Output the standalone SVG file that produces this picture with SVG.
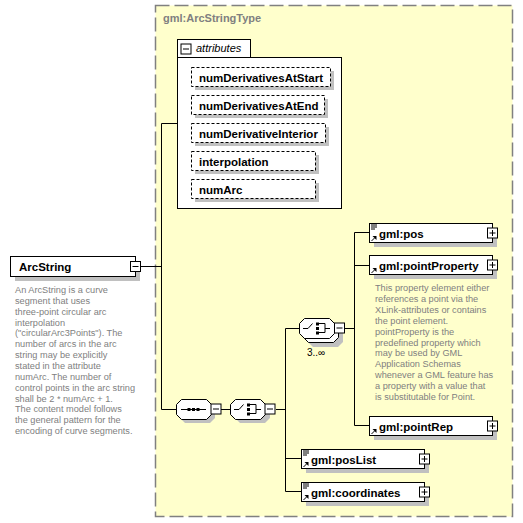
<svg xmlns="http://www.w3.org/2000/svg" xmlns:xlink="http://www.w3.org/1999/xlink" width="523" height="523" viewBox="0 0 523 523">
<style>
.box{fill:#fff;stroke:#000;stroke-width:1}
.sh{fill:#c0c0c0}
.attr{fill:#fff;stroke:#000;stroke-width:1;stroke-dasharray:3,2}
.lbl{font-family:"Liberation Sans",Arial,sans-serif;font-weight:bold;font-size:11.5px;fill:#000}
.desc{font-family:"Liberation Sans",Arial,sans-serif;font-size:9.2px;fill:#808080}
.ln{stroke:#000;stroke-width:1;fill:none}
.blk{fill:#000}
</style>
<defs>
<path id="oct" d="M5,0 H30 L35,5 V15 L30,20 H5 L0,15 V5 Z"/>
<g id="minus"><rect x="0.5" y="0.5" width="10" height="10" class="box"/><path d="M2.5,5.5 H8.5" class="ln"/></g>
<g id="plus"><rect x="0.5" y="0.5" width="10" height="10" class="box"/><path d="M2.5,5.5 H8.5 M5.5,2.5 V8.5" class="ln"/></g>
<g id="arr"><path d="M0.5,5.5 L3.5,2.5" class="ln"/><path d="M1.5,0.5 H5.5 V4.5 Z" class="blk"/></g>
<g id="sim"><path d="M0,0.5 H6 M0,2.5 H6 M0,4.5 H4" class="ln"/></g>
<g id="seqicon"><path d="M5,10.5 H30" class="ln"/><rect x="11.5" y="9" width="3" height="3" class="blk"/><rect x="16" y="9" width="3" height="3" class="blk"/><rect x="20.5" y="9" width="3" height="3" class="blk"/></g>
<g id="choiceicon"><path d="M3.5,10.5 H8.5 L13,5.5 M19.5,5.5 H25.5 V14.5 H19.5 M25.5,10.5 H30.5" class="ln"/><rect x="16.5" y="4.5" width="3" height="3" class="blk"/><rect x="16.5" y="9" width="3" height="3" class="blk"/><rect x="16.5" y="13.5" width="3" height="3" class="blk"/></g>
</defs>

<rect width="523" height="523" fill="#fff"/>

<g id="ArcStringType">
<rect x="155.5" y="5.5" width="357" height="511" fill="#ffffcc" stroke="#808080" stroke-width="1.5" stroke-dasharray="14,5"/>
<text x="163" y="22" font-family="Liberation Sans,Arial,sans-serif" font-weight="bold" font-size="11px" fill="#808080">gml:ArcStringType</text>
</g>

<g id="connectors">
<path class="ln" d="M141,266.5 H161.5 M161.5,123.5 H177 M161.5,123.5 V409.5 H176 M221,409.5 H231 M276,409.5 H285.5 M285.5,328.5 V491.5 M285.5,328.5 H300 M285.5,458.5 H301 M285.5,491.5 H301 M345,328.5 H354.5 M354.5,232.5 V425.5 M354.5,232.5 H369 M354.5,265.5 H369 M354.5,425.5 H369"/>
</g>

<g id="ArcString">
<rect x="15" y="261" width="125" height="20" class="sh"/>
<rect x="10.5" y="256.5" width="125" height="20" class="box"/>
<text x="19" y="271" class="lbl" style="font-size:11.5px">ArcString</text>
<use xlink:href="#minus" x="130" y="261"/>
<text class="desc">
<tspan x="15" y="293">An ArcString is a curve</tspan>
<tspan x="15" y="303.85">segment that uses</tspan>
<tspan x="15" y="314.7">three-point circular arc</tspan>
<tspan x="15" y="325.55">interpolation</tspan>
<tspan x="15" y="336.4">("circularArc3Points"). The</tspan>
<tspan x="15" y="347.25">number of arcs in the arc</tspan>
<tspan x="15" y="358.1">string may be explicitly</tspan>
<tspan x="15" y="368.95">stated in the attribute</tspan>
<tspan x="15" y="379.8">numArc. The number of</tspan>
<tspan x="15" y="390.65">control points in the arc string</tspan>
<tspan x="15" y="401.5">shall be 2 * numArc + 1.</tspan>
<tspan x="15" y="412.35">The content model follows</tspan>
<tspan x="15" y="423.2">the general pattern for the</tspan>
<tspan x="15" y="434.05">encoding of curve segments.</tspan>
</text>
</g>

<g id="attributes">
<rect x="177.5" y="39.5" width="73" height="18" class="box"/>
<rect x="177.5" y="57.5" width="164" height="151" class="box"/>
<use xlink:href="#minus" x="180.5" y="43.5"/>
<text x="196" y="52" font-family="Liberation Sans,Arial,sans-serif" font-style="italic" font-size="11px" fill="#000">attributes</text>
</g>

<g id="numDerivativesAtStart">
<rect x="195" y="71" width="139" height="19" class="sh"/>
<rect x="191.5" y="67.5" width="139" height="19" class="attr"/>
<text x="199" y="81.5" class="lbl">numDerivativesAtStart</text>
</g>
<g id="numDerivativesAtEnd">
<rect x="195" y="99" width="133" height="19" class="sh"/>
<rect x="191.5" y="95.5" width="133" height="19" class="attr"/>
<text x="199" y="109.5" class="lbl">numDerivativesAtEnd</text>
</g>
<g id="numDerivativeInterior">
<rect x="195" y="127" width="134" height="19" class="sh"/>
<rect x="191.5" y="123.5" width="134" height="19" class="attr"/>
<text x="199" y="137.5" class="lbl">numDerivativeInterior</text>
</g>
<g id="interpolation">
<rect x="195" y="155" width="124" height="19" class="sh"/>
<rect x="191.5" y="151.5" width="124" height="19" class="attr"/>
<text x="199" y="165.5" class="lbl">interpolation</text>
</g>
<g id="numArc">
<rect x="195" y="183" width="124" height="19" class="sh"/>
<rect x="191.5" y="179.5" width="124" height="19" class="attr"/>
<text x="199" y="193.5" class="lbl">numArc</text>
</g>

<g id="sequence">
<use xlink:href="#oct" x="180" y="403" class="sh"/>
<use xlink:href="#oct" x="176.5" y="399.5" class="box"/>
<use xlink:href="#seqicon" x="176" y="399"/>
<use xlink:href="#minus" x="210.5" y="403.5"/>
</g>

<g id="choice">
<use xlink:href="#oct" x="235" y="403" class="sh"/>
<use xlink:href="#oct" x="230.5" y="399.5" class="box"/>
<use xlink:href="#choiceicon" x="230.5" y="399"/>
<use xlink:href="#minus" x="264.5" y="403.5"/>
</g>

<g id="choice2">
<use xlink:href="#oct" x="308" y="327" class="sh"/>
<use xlink:href="#oct" x="303.5" y="322.5" class="box"/>
<use xlink:href="#oct" x="299.5" y="318.5" class="box"/>
<use xlink:href="#choiceicon" x="299.5" y="318"/>
<use xlink:href="#minus" x="334" y="322.5"/>
<text x="307" y="356" font-family="Liberation Sans,Arial,sans-serif" font-size="10px" fill="#000">3..∞</text>
</g>

<g id="pos">
<rect x="374" y="228" width="123" height="19" class="sh"/>
<rect x="369.5" y="223.5" width="123" height="19" class="box"/>
<use xlink:href="#sim" x="371" y="224.5"/>
<use xlink:href="#arr" x="371" y="235.5"/>
<text x="379" y="237.5" class="lbl">gml:pos</text>
<use xlink:href="#plus" x="487" y="227.5"/>
</g>

<g id="pointProperty">
<rect x="374" y="260" width="123" height="19" class="sh"/>
<rect x="369.5" y="255.5" width="123" height="19" class="box"/>
<use xlink:href="#arr" x="371" y="267.5"/>
<text x="379" y="269.5" class="lbl">gml:pointProperty</text>
<use xlink:href="#plus" x="487" y="259.5"/>
<text class="desc">
<tspan x="375" y="291">This property element either</tspan>
<tspan x="375" y="301.9">references a point via the</tspan>
<tspan x="375" y="312.8">XLink-attributes or contains</tspan>
<tspan x="375" y="323.7">the point element.</tspan>
<tspan x="375" y="334.6">pointProperty is the</tspan>
<tspan x="375" y="345.5">predefined property which</tspan>
<tspan x="375" y="356.4">may be used by GML</tspan>
<tspan x="375" y="367.3">Application Schemas</tspan>
<tspan x="375" y="378.2">whenever a GML feature has</tspan>
<tspan x="375" y="389.1">a property with a value that</tspan>
<tspan x="375" y="400">is substitutable for Point.</tspan>
</text>
</g>

<g id="pointRep">
<rect x="374" y="421" width="123" height="19" class="sh"/>
<rect x="369.5" y="416.5" width="123" height="19" class="box"/>
<use xlink:href="#arr" x="371" y="428.5"/>
<text x="379" y="430.5" class="lbl">gml:pointRep</text>
<use xlink:href="#plus" x="487" y="420.5"/>
</g>

<g id="posList">
<rect x="306" y="454" width="123" height="19" class="sh"/>
<rect x="301.5" y="449.5" width="123" height="19" class="box"/>
<use xlink:href="#sim" x="303" y="450.5"/>
<use xlink:href="#arr" x="303" y="461.5"/>
<text x="311" y="463.5" class="lbl">gml:posList</text>
<use xlink:href="#plus" x="419" y="453.5"/>
</g>

<g id="coordinates">
<rect x="306" y="487" width="123" height="19" class="sh"/>
<rect x="301.5" y="482.5" width="123" height="19" class="box"/>
<use xlink:href="#sim" x="303" y="483.5"/>
<use xlink:href="#arr" x="303" y="494.5"/>
<text x="311" y="496.5" class="lbl">gml:coordinates</text>
<use xlink:href="#plus" x="419" y="486.5"/>
</g>
</svg>
